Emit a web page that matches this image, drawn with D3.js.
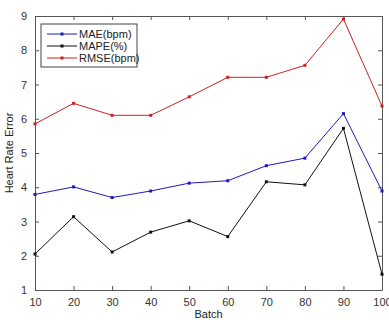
<!DOCTYPE html>
<html>
<head>
<meta charset="utf-8">
<script src="https://cdn.jsdelivr.net/npm/d3@7"></script>
<style>
    body { margin: 0; background: #fff; }
    text { font-family: "Liberation Sans", Arial, sans-serif; }
</style>
</head>
<body>
<div id="chart"></div>
<script>
const batches = [10, 20, 30, 40, 50, 60, 70, 80, 90, 100];
const mae = [3.79, 4.01, 3.70, 3.89, 4.12, 4.19, 4.63, 4.85, 6.15, 3.89];
const mape = [2.05, 3.14, 2.11, 2.69, 3.02, 2.56, 4.16, 4.07, 5.72, 1.46];
const rmse = [5.85, 6.45, 6.10, 6.10, 6.64, 7.21, 7.21, 7.56, 8.91, 6.37];
const yTicks = [1, 2, 3, 4, 5, 6, 7, 8, 9];
const seriesNames = ["MAE(bpm)", "MAPE(%)", "RMSE(bpm)"];

const series = [
    { name: seriesNames[0], values: mae, color: "#1c1cb8" },
    { name: seriesNames[1], values: mape, color: "#111" },
    { name: seriesNames[2], values: rmse, color: "#cc2222" }
];

const margin = { top: 16, right: 7, bottom: 30, left: 35 };
const width = 389 - margin.left - margin.right;
const height = 320 - margin.top - margin.bottom;

const svg = d3.select("#chart").append("svg")
    .attr("width", 389)
    .attr("height", 320)
    .append("g")
    .attr("transform", `translate(${margin.left},${margin.top})`);

const x = d3.scaleLinear().domain([10, 100]).range([0, width]);
const y = d3.scaleLinear().domain([1, 9]).range([height, 0]);

const axisColor = "#555";

// axes with inward ticks, MATLAB style box
function styleAxis(g, showText) {
    g.select(".domain").attr("stroke", axisColor);
    g.selectAll(".tick line").attr("stroke", axisColor);
    g.selectAll(".tick text")
        .attr("fill", "#333")
        .style("font-size", "11px")
        .style("display", showText ? null : "none");
}

svg.append("g")
    .attr("transform", `translate(0,${height})`)
    .call(d3.axisBottom(x).tickValues(batches).tickSize(-4).tickPadding(8).tickSizeOuter(0))
    .call(g => styleAxis(g, true));

svg.append("g")
    .call(d3.axisTop(x).tickValues(batches).tickSize(-4).tickSizeOuter(0))
    .call(g => styleAxis(g, false));

svg.append("g")
    .call(d3.axisLeft(y).tickValues(yTicks).tickSize(-4).tickPadding(8).tickSizeOuter(0))
    .call(g => styleAxis(g, true));

svg.append("g")
    .attr("transform", `translate(${width},0)`)
    .call(d3.axisRight(y).tickValues(yTicks).tickSize(-4).tickSizeOuter(0))
    .call(g => styleAxis(g, false));

const line = d3.line()
    .x((d, i) => x(batches[i]))
    .y(d => y(d));

series.forEach(s => {
    svg.append("path")
        .datum(s.values)
        .attr("fill", "none")
        .attr("stroke", s.color)
        .attr("stroke-width", 1)
        .attr("d", line);

    svg.selectAll(null)
        .data(s.values)
        .enter().append("rect")
        .attr("x", (d, i) => x(batches[i]) - 1.5)
        .attr("y", d => y(d) - 1.5)
        .attr("width", 3)
        .attr("height", 3)
        .attr("fill", s.color);
});

// axis labels
svg.append("text")
    .attr("x", width / 2)
    .attr("y", height + 28)
    .attr("text-anchor", "middle")
    .attr("fill", "#222")
    .style("font-size", "11px")
    .text("Batch");

svg.append("text")
    .attr("transform", `translate(-22,${height / 2}) rotate(-90)`)
    .attr("text-anchor", "middle")
    .attr("fill", "#222")
    .style("font-size", "11px")
    .text("Heart Rate Error");

// legend
const legend = svg.append("g")
    .attr("transform", "translate(6,8)");

legend.append("rect")
    .attr("width", 96)
    .attr("height", 43)
    .attr("fill", "#fff")
    .attr("stroke", "#444")
    .attr("stroke-width", 1);

series.forEach((s, i) => {
    const ly = 10 + i * 12;
    legend.append("line")
        .attr("x1", 6).attr("x2", 36)
        .attr("y1", ly).attr("y2", ly)
        .attr("stroke", s.color);
    legend.append("rect")
        .attr("x", 19.5).attr("y", ly - 1.5)
        .attr("width", 3).attr("height", 3)
        .attr("fill", s.color);
    legend.append("text")
        .attr("x", 38)
        .attr("y", ly + 4)
        .attr("fill", "#222")
        .style("font-size", "11px")
        .text(s.name);
});
</script>
</body>
</html>
